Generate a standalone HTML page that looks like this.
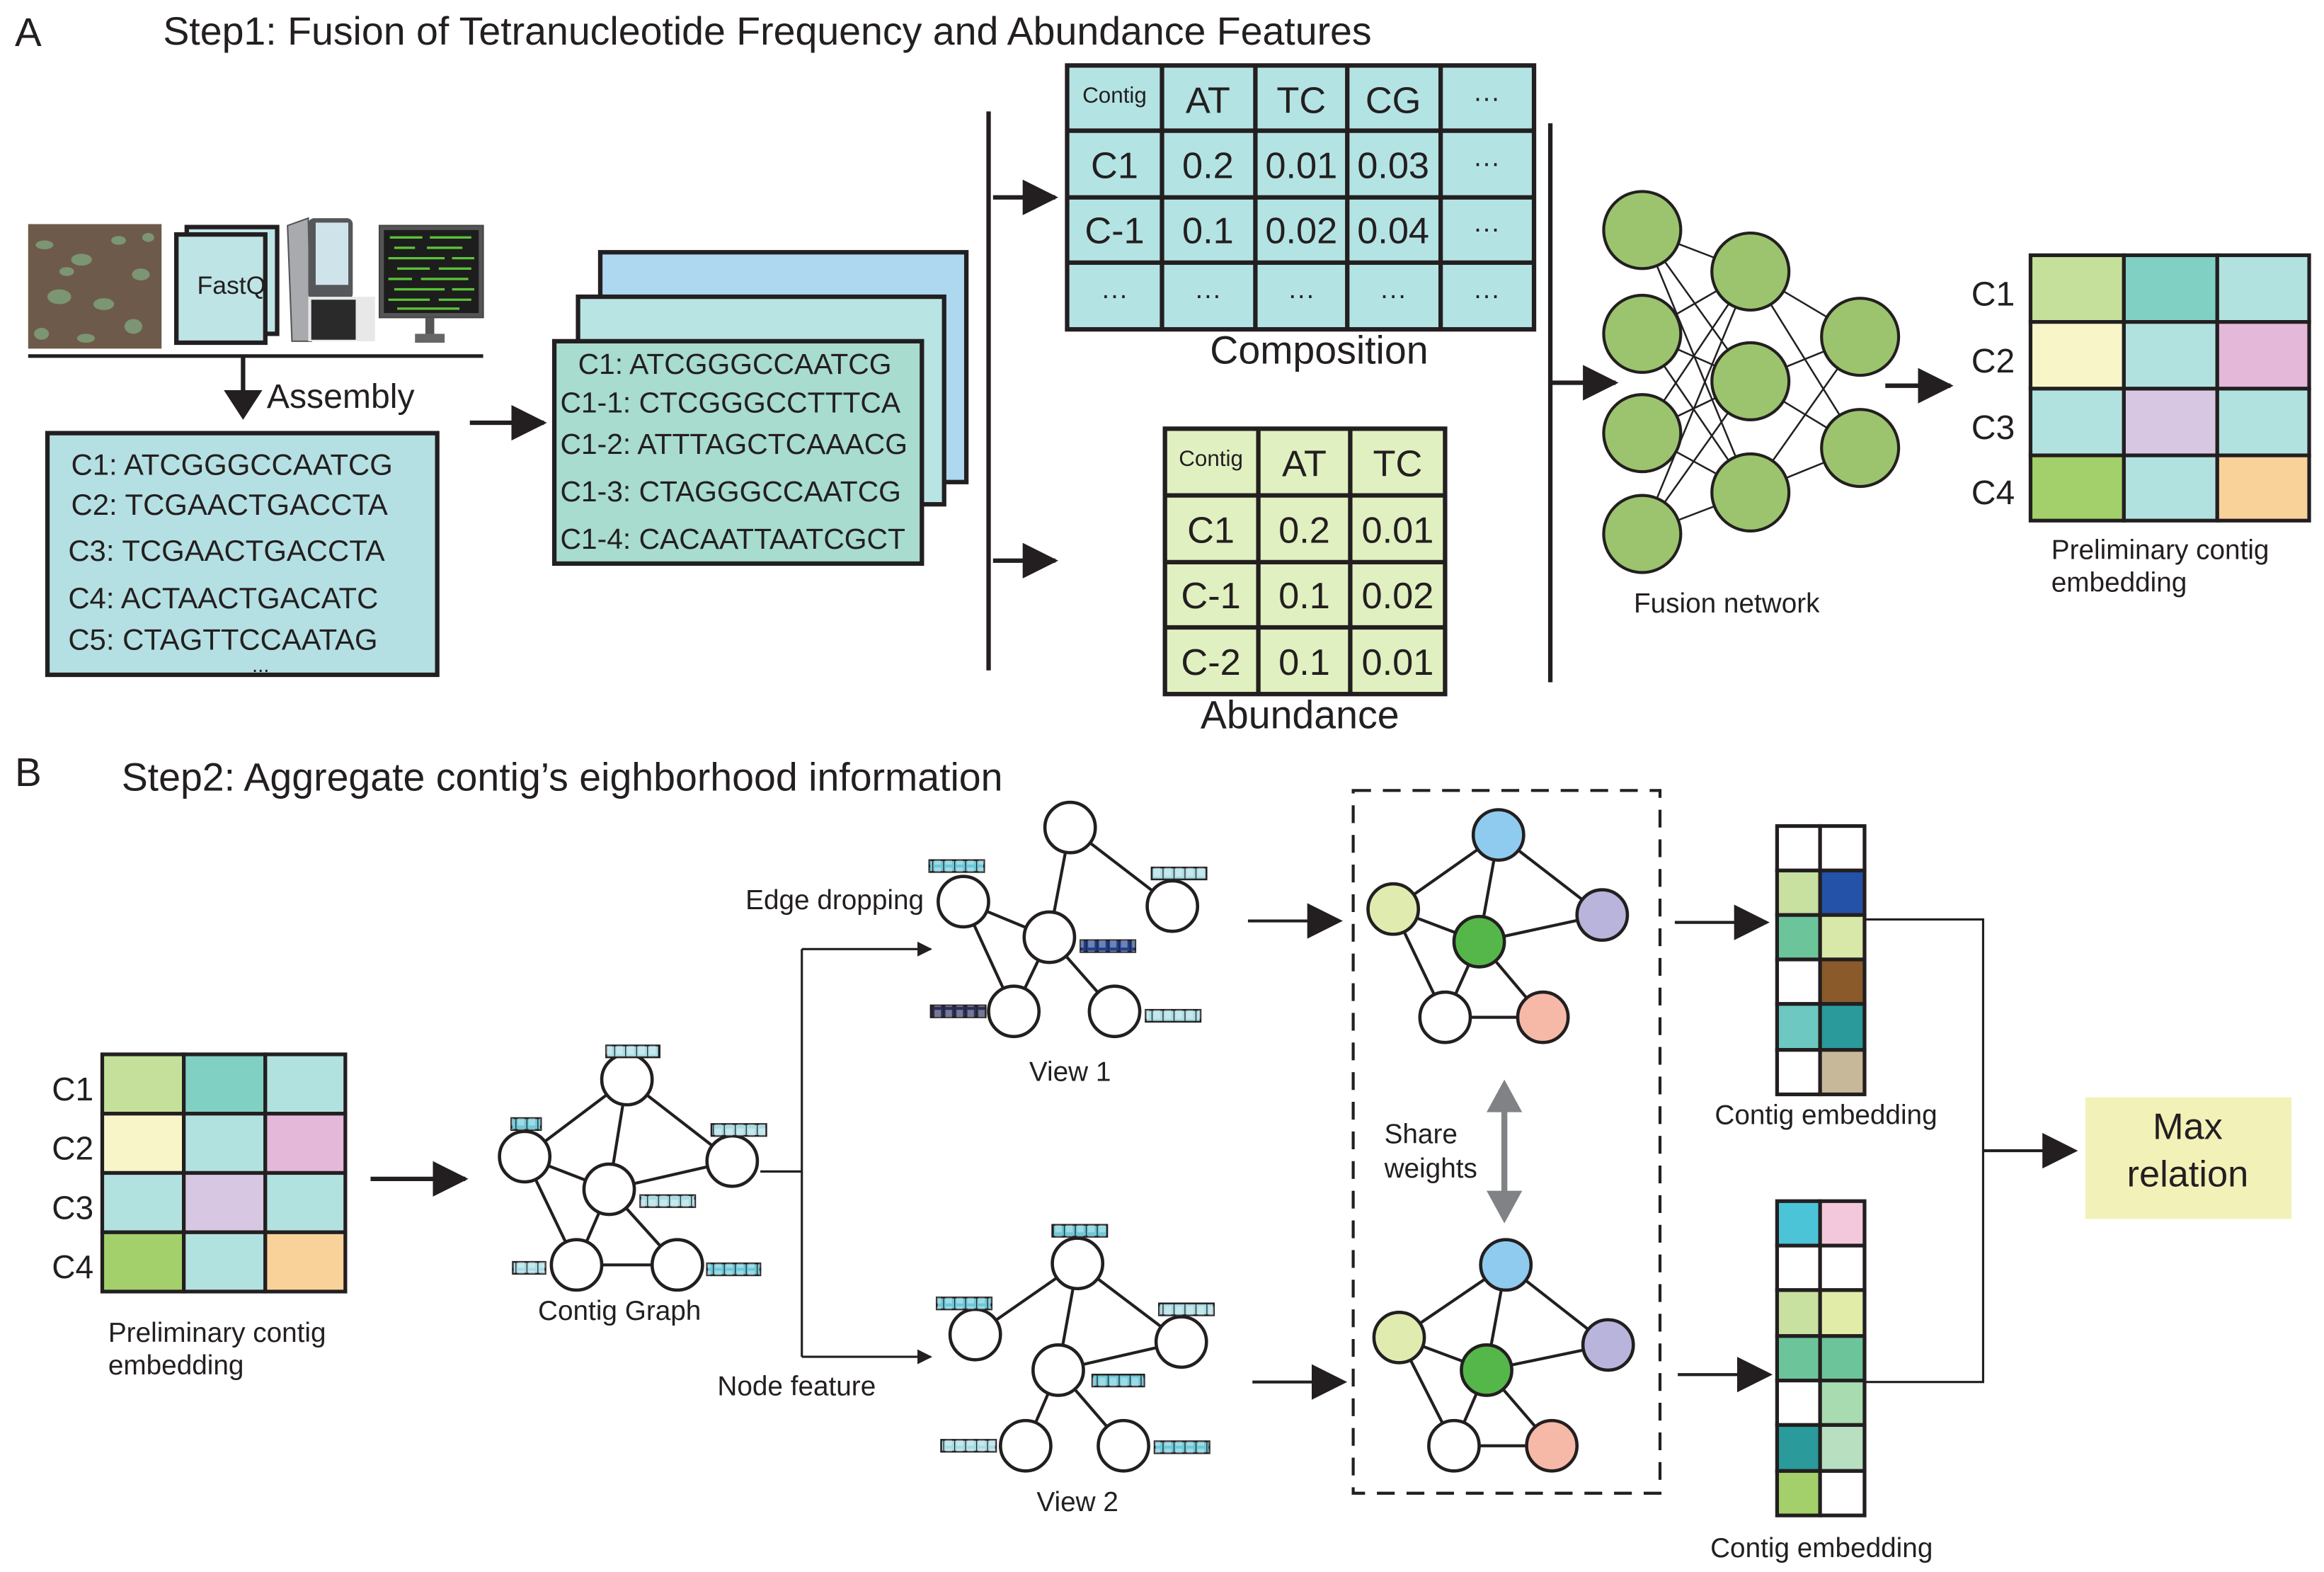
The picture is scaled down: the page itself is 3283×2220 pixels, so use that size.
<!DOCTYPE html>
<html><head><meta charset="utf-8"><style>
html,body{margin:0;padding:0;background:#fff;}
svg{display:block;}
text{font-family:"Liberation Sans",Arial,sans-serif;fill:#231f20;}
</style></head><body>
<svg width="3283" height="2220" viewBox="0 0 1568 1060" xmlns="http://www.w3.org/2000/svg">
<defs>
<marker id="ah" markerWidth="10" markerHeight="10" refX="9" refY="5" orient="auto" markerUnits="userSpaceOnUse"><path d="M0,0 L10,5 L0,10 z" fill="#231f20"/></marker>
<marker id="ahb" markerWidth="24" markerHeight="24" refX="22" refY="12" orient="auto" markerUnits="userSpaceOnUse"><path d="M0,0 L24,12 L0,24 z" fill="#231f20"/></marker>
<pattern id="cells" x="0" y="0" width="7.4" height="8" patternUnits="userSpaceOnUse"><rect x="0" y="0" width="7.4" height="8" fill="none"/><line x1="0" y1="0" x2="0" y2="8" stroke="#231f20" stroke-width="1.2"/><rect x="1.5" y="1" width="4.4" height="6" fill="#fff" opacity="0.35"/></pattern>
</defs>
<rect width="1568" height="1060" fill="#fff"/>

<!-- Section A -->
<text x="10" y="31" font-size="27">A</text>
<text x="110" y="30" font-size="26.5">Step1: Fusion of Tetranucleotide Frequency and Abundance Features</text>

<!-- photo -->
<rect x="19" y="151" width="90" height="84" fill="#6e5a4a"/>
<g fill="#7e9c78" opacity="0.9">
<ellipse cx="30" cy="165" rx="6" ry="3"/><ellipse cx="55" cy="175" rx="7" ry="4"/><ellipse cx="80" cy="162" rx="5" ry="3"/>
<ellipse cx="95" cy="185" rx="6" ry="4"/><ellipse cx="40" cy="200" rx="8" ry="5"/><ellipse cx="70" cy="205" rx="7" ry="4"/>
<ellipse cx="90" cy="220" rx="6" ry="5"/><ellipse cx="28" cy="225" rx="5" ry="4"/><ellipse cx="58" cy="228" rx="6" ry="3"/>
<ellipse cx="100" cy="160" rx="4" ry="3"/><ellipse cx="45" cy="183" rx="5" ry="3"/>
</g>
<!-- fastq docs -->
<rect x="126" y="153" width="61" height="72" fill="#bfe4e6" stroke="#231f20" stroke-width="3"/>
<rect x="119" y="158" width="60" height="73" fill="#bfe4e6" stroke="#231f20" stroke-width="3"/>
<text x="133" y="198" font-size="17">FastQ</text>
<!-- sequencer -->
<path d="M194,152 L208,147 L210,230 L197,230 Z" fill="#a8aaad" stroke="#555" stroke-width="1"/>
<rect x="208" y="147" width="30" height="55" rx="4" fill="#55575a"/>
<rect x="213" y="150" width="22" height="42" fill="#cfe3ea"/>
<rect x="208" y="200" width="45" height="30" fill="#e8e8e8"/>
<rect x="210" y="202" width="30" height="27" fill="#2a2a2a"/>
<!-- monitor -->
<rect x="256" y="152" width="70" height="62" fill="#555" stroke="#444"/>
<rect x="259" y="155" width="64" height="56" fill="#1d1d1d"/>
<g stroke="#5cc23a" stroke-width="1.6">
<line x1="263" y1="160" x2="285" y2="160"/><line x1="290" y1="160" x2="318" y2="160"/>
<line x1="266" y1="167" x2="280" y2="167"/><line x1="288" y1="167" x2="312" y2="167"/>
<line x1="262" y1="174" x2="300" y2="174"/><line x1="305" y1="174" x2="320" y2="174"/>
<line x1="268" y1="181" x2="290" y2="181"/><line x1="296" y1="181" x2="318" y2="181"/>
<line x1="262" y1="188" x2="278" y2="188"/><line x1="284" y1="188" x2="316" y2="188"/>
<line x1="266" y1="195" x2="300" y2="195"/><line x1="305" y1="195" x2="320" y2="195"/>
<line x1="262" y1="202" x2="290" y2="202"/><line x1="296" y1="202" x2="318" y2="202"/>
<line x1="268" y1="208" x2="310" y2="208"/>
</g>
<rect x="287" y="214" width="6" height="12" fill="#555"/>
<rect x="280" y="225" width="20" height="6" fill="#666"/>
<line x1="19" y1="240" x2="326" y2="240" stroke="#231f20" stroke-width="2.5"/>
<line x1="164" y1="240" x2="164" y2="264" stroke="#231f20" stroke-width="3"/>
<path d="M151,263 L177,263 L164,283 Z" fill="#231f20"/>
<text x="180" y="275" font-size="23">Assembly</text>

<rect x="32" y="292" width="263" height="163" fill="#b5e0e3" stroke="#231f20" stroke-width="3"/>
<g font-size="20">
<text x="48" y="320">C1: ATCGGGCCAATCG</text>
<text x="48" y="347">C2: TCGAACTGACCTA</text>
<text x="46" y="378">C3: TCGAACTGACCTA</text>
<text x="46" y="410">C4: ACTAACTGACATC</text>
<text x="46" y="438">C5: CTAGTTCCAATAG</text>
</g>
<text x="170" y="453" font-size="14">...</text>

<line x1="317" y1="285" x2="367" y2="285" stroke="#231f20" stroke-width="3" marker-end="url(#ahb)"/>

<rect x="405" y="170" width="247" height="155" fill="#aed8f0" stroke="#231f20" stroke-width="3"/>
<rect x="390" y="200" width="247" height="140" fill="#b8e4e3" stroke="#231f20" stroke-width="3"/>
<rect x="374" y="230" width="248" height="150" fill="#a7dccf" stroke="#231f20" stroke-width="3"/>
<g font-size="19.5">
<text x="390" y="252">C1:  ATCGGGCCAATCG</text>
<text x="378" y="278">C1-1: CTCGGGCCTTTCA</text>
<text x="378" y="306">C1-2: ATTTAGCTCAAACG</text>
<text x="378" y="338">C1-3: CTAGGGCCAATCG</text>
<text x="378" y="370">C1-4: CACAATTAATCGCT</text>
</g>

<line x1="667" y1="75" x2="667" y2="452" stroke="#231f20" stroke-width="3"/>
<line x1="670" y1="133" x2="712" y2="133" stroke="#231f20" stroke-width="3" marker-end="url(#ahb)"/>
<line x1="670" y1="378" x2="712" y2="378" stroke="#231f20" stroke-width="3" marker-end="url(#ahb)"/>

<!-- Composition table -->
<rect x="720" y="44" width="315" height="178" fill="#b4e3e3" stroke="#231f20" stroke-width="3"/>
<g stroke="#231f20" stroke-width="3">
<line x1="784" y1="44" x2="784" y2="222"/><line x1="847" y1="44" x2="847" y2="222"/>
<line x1="909" y1="44" x2="909" y2="222"/><line x1="972" y1="44" x2="972" y2="222"/>
<line x1="720" y1="88" x2="1035" y2="88"/><line x1="720" y1="133" x2="1035" y2="133"/><line x1="720" y1="177" x2="1035" y2="177"/>
</g>
<g font-size="25" text-anchor="middle">
<text x="752" y="69" font-size="15">Contig</text><text x="815" y="76">AT</text><text x="878" y="76">TC</text><text x="940" y="76">CG</text><text x="1003" y="72" font-size="18">···</text>
<text x="752" y="120">C1</text><text x="815" y="120">0.2</text><text x="878" y="120">0.01</text><text x="940" y="120">0.03</text><text x="1003" y="116" font-size="18">···</text>
<text x="752" y="164">C-1</text><text x="815" y="164">0.1</text><text x="878" y="164">0.02</text><text x="940" y="164">0.04</text><text x="1003" y="160" font-size="18">···</text>
<g font-size="18"><text x="752" y="205">···</text><text x="815" y="205">···</text><text x="878" y="205">···</text><text x="940" y="205">···</text><text x="1003" y="205">···</text></g>
</g>
<text x="890" y="245" font-size="26.5" text-anchor="middle">Composition</text>

<!-- Abundance -->
<rect x="786" y="289" width="189" height="179" fill="#e0f0c0" stroke="#231f20" stroke-width="3"/>
<g stroke="#231f20" stroke-width="3">
<line x1="849" y1="289" x2="849" y2="468"/><line x1="911" y1="289" x2="911" y2="468"/>
<line x1="786" y1="334" x2="975" y2="334"/><line x1="786" y1="379" x2="975" y2="379"/><line x1="786" y1="423" x2="975" y2="423"/>
</g>
<g font-size="25" text-anchor="middle">
<text x="817" y="314" font-size="15">Contig</text><text x="880" y="321">AT</text><text x="943" y="321">TC</text>
<text x="817" y="366">C1</text><text x="880" y="366">0.2</text><text x="943" y="366">0.01</text>
<text x="817" y="410">C-1</text><text x="880" y="410">0.1</text><text x="943" y="410">0.02</text>
<text x="817" y="455">C-2</text><text x="880" y="455">0.1</text><text x="943" y="455">0.01</text>
</g>
<text x="877" y="491" font-size="26.5" text-anchor="middle">Abundance</text>

<line x1="1046" y1="83" x2="1046" y2="460" stroke="#231f20" stroke-width="3"/>
<line x1="1046" y1="258" x2="1090" y2="258" stroke="#231f20" stroke-width="3" marker-end="url(#ahb)"/>

<!-- fusion network -->
<g stroke="#231f20" stroke-width="1.2">
<line x1="1108" y1="155" x2="1181" y2="183"/><line x1="1108" y1="155" x2="1181" y2="257"/><line x1="1108" y1="155" x2="1181" y2="332"/>
<line x1="1108" y1="225" x2="1181" y2="183"/><line x1="1108" y1="225" x2="1181" y2="257"/><line x1="1108" y1="225" x2="1181" y2="332"/>
<line x1="1108" y1="292" x2="1181" y2="183"/><line x1="1108" y1="292" x2="1181" y2="257"/><line x1="1108" y1="292" x2="1181" y2="332"/>
<line x1="1108" y1="360" x2="1181" y2="183"/><line x1="1108" y1="360" x2="1181" y2="257"/><line x1="1108" y1="360" x2="1181" y2="332"/>
<line x1="1181" y1="183" x2="1255" y2="227"/><line x1="1181" y1="183" x2="1255" y2="302"/>
<line x1="1181" y1="257" x2="1255" y2="227"/><line x1="1181" y1="257" x2="1255" y2="302"/>
<line x1="1181" y1="332" x2="1255" y2="227"/><line x1="1181" y1="332" x2="1255" y2="302"/>
</g>
<g fill="#9cc46f" stroke="#231f20" stroke-width="2">
<circle cx="1108" cy="155" r="26"/><circle cx="1108" cy="225" r="26"/><circle cx="1108" cy="292" r="26"/><circle cx="1108" cy="360" r="26"/>
<circle cx="1181" cy="183" r="26"/><circle cx="1181" cy="257" r="26"/><circle cx="1181" cy="332" r="26"/>
<circle cx="1255" cy="227" r="26"/><circle cx="1255" cy="302" r="26"/>
</g>
<text x="1165" y="413" font-size="18.5" text-anchor="middle">Fusion network</text>
<line x1="1272" y1="260" x2="1316" y2="260" stroke="#231f20" stroke-width="3" marker-end="url(#ahb)"/>

<!-- prelim embedding top -->
<g stroke="#231f20" stroke-width="2.5">
<rect x="1370" y="172" width="63" height="45" fill="#c5e09a"/><rect x="1433" y="172" width="63" height="45" fill="#80d0c4"/><rect x="1496" y="172" width="62" height="45" fill="#b2e2e0"/>
<rect x="1370" y="217" width="63" height="45" fill="#f8f6c9"/><rect x="1433" y="217" width="63" height="45" fill="#b2e2e0"/><rect x="1496" y="217" width="62" height="45" fill="#e4b8d8"/>
<rect x="1370" y="262" width="63" height="45" fill="#b2e2e0"/><rect x="1433" y="262" width="63" height="45" fill="#d7c7e3"/><rect x="1496" y="262" width="62" height="45" fill="#b2e2e0"/>
<rect x="1370" y="307" width="63" height="44" fill="#a3d06a"/><rect x="1433" y="307" width="63" height="44" fill="#b2e2e0"/><rect x="1496" y="307" width="62" height="44" fill="#f9d29a"/>
</g>
<g font-size="23"><text x="1330" y="206">C1</text><text x="1330" y="251">C2</text><text x="1330" y="296">C3</text><text x="1330" y="340">C4</text></g>
<text x="1384" y="377" font-size="18.5">Preliminary contig</text>
<text x="1384" y="399" font-size="18.5">embedding</text>

<!-- Section B -->
<text x="10" y="530" font-size="27">B</text>
<text x="82" y="533" font-size="26.5">Step2: Aggregate contig’s eighborhood information</text>

<g stroke="#231f20" stroke-width="2.5">
<rect x="69" y="711" width="55" height="40" fill="#c5e09a"/><rect x="124" y="711" width="55" height="40" fill="#80d0c4"/><rect x="179" y="711" width="54" height="40" fill="#b2e2e0"/>
<rect x="69" y="751" width="55" height="40" fill="#f8f6c9"/><rect x="124" y="751" width="55" height="40" fill="#b2e2e0"/><rect x="179" y="751" width="54" height="40" fill="#e4b8d8"/>
<rect x="69" y="791" width="55" height="40" fill="#b2e2e0"/><rect x="124" y="791" width="55" height="40" fill="#d7c7e3"/><rect x="179" y="791" width="54" height="40" fill="#b2e2e0"/>
<rect x="69" y="831" width="55" height="40" fill="#a3d06a"/><rect x="124" y="831" width="55" height="40" fill="#b2e2e0"/><rect x="179" y="831" width="54" height="40" fill="#f9d29a"/>
</g>
<g font-size="22"><text x="35" y="742">C1</text><text x="35" y="782">C2</text><text x="35" y="822">C3</text><text x="35" y="862">C4</text></g>
<text x="73" y="905" font-size="18.5">Preliminary contig</text>
<text x="73" y="927" font-size="18.5">embedding</text>

<line x1="250" y1="795" x2="314" y2="795" stroke="#231f20" stroke-width="3" marker-end="url(#ahb)"/>

<!-- contig graph -->
<g stroke="#231f20" stroke-width="2">
<line x1="423" y1="728" x2="354" y2="780"/><line x1="423" y1="728" x2="411" y2="802"/><line x1="423" y1="728" x2="494" y2="783"/>
<line x1="354" y1="780" x2="411" y2="802"/><line x1="354" y1="780" x2="389" y2="853"/><line x1="411" y1="802" x2="389" y2="853"/>
<line x1="411" y1="802" x2="494" y2="783"/><line x1="411" y1="802" x2="457" y2="853"/><line x1="389" y1="853" x2="457" y2="853"/>
</g>
<g fill="#fff" stroke="#231f20" stroke-width="2.2">
<circle cx="423" cy="728" r="17"/><circle cx="354" cy="780" r="17"/><circle cx="411" cy="802" r="17"/><circle cx="494" cy="783" r="17"/><circle cx="389" cy="853" r="17"/><circle cx="457" cy="853" r="17"/>
</g>
<g stroke="#231f20" stroke-width="1.2">
<rect x="409" y="705" width="36" height="8" fill="#a8dce4"/><rect x="345" y="754" width="20" height="8" fill="#6cc8d8"/>
<rect x="480" y="758" width="37" height="8" fill="#a8dce4"/><rect x="432" y="806" width="37" height="8" fill="#a8dce4"/>
<rect x="346" y="851" width="22" height="8" fill="#a8dce4"/><rect x="477" y="852" width="36" height="8" fill="#6cc8d8"/>
</g>
<g fill="url(#cells)">
<rect x="409" y="705" width="36" height="8"/><rect x="345" y="754" width="20" height="8"/><rect x="480" y="758" width="37" height="8"/>
<rect x="432" y="806" width="37" height="8"/><rect x="346" y="851" width="22" height="8"/><rect x="477" y="852" width="36" height="8"/>
</g>
<text x="418" y="890" font-size="18.5" text-anchor="middle">Contig Graph</text>

<polyline points="513,790 541,790" fill="none" stroke="#231f20" stroke-width="1.5"/>
<line x1="541" y1="640" x2="541" y2="915" stroke="#231f20" stroke-width="1.5"/>
<line x1="541" y1="640" x2="628" y2="640" stroke="#231f20" stroke-width="1.5" marker-end="url(#ah)"/>
<line x1="541" y1="915" x2="628" y2="915" stroke="#231f20" stroke-width="1.5" marker-end="url(#ah)"/>
<text x="503" y="613" font-size="18.5">Edge dropping</text>
<text x="484" y="941" font-size="18.5">Node feature</text>

<!-- view1 -->
<g stroke="#231f20" stroke-width="2">
<line x1="722" y1="558" x2="708" y2="632"/><line x1="722" y1="558" x2="791" y2="611"/>
<line x1="650" y1="608" x2="708" y2="632"/><line x1="650" y1="608" x2="684" y2="682"/>
<line x1="708" y1="632" x2="684" y2="682"/><line x1="708" y1="632" x2="752" y2="682"/>
</g>
<g fill="#fff" stroke="#231f20" stroke-width="2.2">
<circle cx="722" cy="558" r="17"/><circle cx="650" cy="608" r="17"/><circle cx="708" cy="632" r="17"/><circle cx="791" cy="611" r="17"/><circle cx="684" cy="682" r="17"/><circle cx="752" cy="682" r="17"/>
</g>
<g stroke="#231f20" stroke-width="1.2">
<rect x="627" y="580" width="37" height="8" fill="#6cc8d8"/><rect x="777" y="585" width="37" height="8" fill="#a8dce4"/>
<rect x="729" y="634" width="37" height="8" fill="#1e3f8e"/><rect x="628" y="678" width="37" height="8" fill="#2a2f5a"/>
<rect x="773" y="681" width="37" height="8" fill="#a8dce4"/>
</g>
<g fill="url(#cells)">
<rect x="627" y="580" width="37" height="8"/><rect x="777" y="585" width="37" height="8"/><rect x="729" y="634" width="37" height="8"/>
<rect x="628" y="678" width="37" height="8"/><rect x="773" y="681" width="37" height="8"/>
</g>
<text x="722" y="729" font-size="18.5" text-anchor="middle">View 1</text>

<!-- view2 -->
<g stroke="#231f20" stroke-width="2">
<line x1="727" y1="852" x2="658" y2="900"/><line x1="727" y1="852" x2="714" y2="924"/><line x1="727" y1="852" x2="797" y2="905"/>
<line x1="714" y1="924" x2="797" y2="905"/><line x1="714" y1="924" x2="692" y2="975"/><line x1="714" y1="924" x2="758" y2="975"/>
</g>
<g fill="#fff" stroke="#231f20" stroke-width="2.2">
<circle cx="727" cy="852" r="17"/><circle cx="658" cy="900" r="17"/><circle cx="714" cy="924" r="17"/><circle cx="797" cy="905" r="17"/><circle cx="692" cy="975" r="17"/><circle cx="758" cy="975" r="17"/>
</g>
<g stroke="#231f20" stroke-width="1.2">
<rect x="710" y="826" width="37" height="8" fill="#6cc8d8"/><rect x="632" y="875" width="37" height="8" fill="#6cc8d8"/>
<rect x="782" y="879" width="37" height="8" fill="#a8dce4"/><rect x="737" y="927" width="35" height="8" fill="#6cc8d8"/>
<rect x="635" y="971" width="37" height="8" fill="#a8dce4"/><rect x="779" y="972" width="37" height="8" fill="#6cc8d8"/>
</g>
<g fill="url(#cells)">
<rect x="710" y="826" width="37" height="8"/><rect x="632" y="875" width="37" height="8"/><rect x="782" y="879" width="37" height="8"/>
<rect x="737" y="927" width="35" height="8"/><rect x="635" y="971" width="37" height="8"/><rect x="779" y="972" width="37" height="8"/>
</g>
<text x="727" y="1019" font-size="18.5" text-anchor="middle">View 2</text>

<line x1="842" y1="621" x2="904" y2="621" stroke="#231f20" stroke-width="2" marker-end="url(#ahb)"/>
<line x1="845" y1="932" x2="907" y2="932" stroke="#231f20" stroke-width="2" marker-end="url(#ahb)"/>

<rect x="913" y="533" width="207" height="474" fill="none" stroke="#231f20" stroke-width="2" stroke-dasharray="12,8"/>

<!-- colored graphs -->
<g stroke="#231f20" stroke-width="2">
<line x1="1011" y1="563" x2="940" y2="613"/><line x1="1011" y1="563" x2="998" y2="635"/><line x1="1011" y1="563" x2="1081" y2="617"/>
<line x1="940" y1="613" x2="998" y2="635"/><line x1="940" y1="613" x2="975" y2="686"/><line x1="998" y1="635" x2="1081" y2="617"/>
<line x1="998" y1="635" x2="975" y2="686"/><line x1="998" y1="635" x2="1041" y2="686"/><line x1="975" y1="686" x2="1041" y2="686"/>
<line x1="1016" y1="853" x2="944" y2="902"/><line x1="1016" y1="853" x2="1003" y2="924"/><line x1="1016" y1="853" x2="1085" y2="907"/>
<line x1="944" y1="902" x2="1003" y2="924"/><line x1="944" y1="902" x2="981" y2="975"/><line x1="1003" y1="924" x2="1085" y2="907"/>
<line x1="1003" y1="924" x2="981" y2="975"/><line x1="1003" y1="924" x2="1047" y2="975"/><line x1="981" y1="975" x2="1047" y2="975"/>
</g>
<g stroke="#231f20" stroke-width="2.2">
<circle cx="1011" cy="563" r="17" fill="#8fcbef"/><circle cx="940" cy="613" r="17" fill="#e0ebb0"/><circle cx="998" cy="635" r="17" fill="#55b74a"/>
<circle cx="1081" cy="617" r="17" fill="#b8b4dc"/><circle cx="975" cy="686" r="17" fill="#fff"/><circle cx="1041" cy="686" r="17" fill="#f6b9a8"/>
<circle cx="1016" cy="853" r="17" fill="#8fcbef"/><circle cx="944" cy="902" r="17" fill="#e0ebb0"/><circle cx="1003" cy="924" r="17" fill="#55b74a"/>
<circle cx="1085" cy="907" r="17" fill="#b8b4dc"/><circle cx="981" cy="975" r="17" fill="#fff"/><circle cx="1047" cy="975" r="17" fill="#f6b9a8"/>
</g>
<line x1="1015" y1="745" x2="1015" y2="808" stroke="#808285" stroke-width="4"/>
<path d="M1003,750 L1015,728 L1027,750 Z" fill="#808285"/>
<path d="M1003,803 L1015,825 L1027,803 Z" fill="#808285"/>
<text x="934" y="771" font-size="18.5">Share</text>
<text x="934" y="794" font-size="18.5">weights</text>

<line x1="1130" y1="622" x2="1192" y2="622" stroke="#231f20" stroke-width="2" marker-end="url(#ahb)"/>
<line x1="1132" y1="927" x2="1194" y2="927" stroke="#231f20" stroke-width="2" marker-end="url(#ahb)"/>

<!-- embeddings -->
<g stroke="#231f20" stroke-width="2.5">
<rect x="1199" y="557" width="29" height="30" fill="#fff"/><rect x="1228" y="557" width="30" height="30" fill="#fff"/>
<rect x="1199" y="587" width="29" height="30" fill="#c8e0a0"/><rect x="1228" y="587" width="30" height="30" fill="#2452a8"/>
<rect x="1199" y="617" width="29" height="30" fill="#6cc59a"/><rect x="1228" y="617" width="30" height="30" fill="#d8e8a8"/>
<rect x="1199" y="647" width="29" height="30" fill="#fff"/><rect x="1228" y="647" width="30" height="30" fill="#8b5a2b"/>
<rect x="1199" y="677" width="29" height="31" fill="#6cc8c0"/><rect x="1228" y="677" width="30" height="31" fill="#2a9a9a"/>
<rect x="1199" y="708" width="29" height="30" fill="#fff"/><rect x="1228" y="708" width="30" height="30" fill="#c8b89a"/>
</g>
<text x="1232" y="758" font-size="18.5" text-anchor="middle">Contig embedding</text>
<g stroke="#231f20" stroke-width="2.5">
<rect x="1199" y="810" width="29" height="30" fill="#4cc4d8"/><rect x="1228" y="810" width="30" height="30" fill="#f4c8dc"/>
<rect x="1199" y="840" width="29" height="30" fill="#fff"/><rect x="1228" y="840" width="30" height="30" fill="#fff"/>
<rect x="1199" y="870" width="29" height="31" fill="#c8e0a0"/><rect x="1228" y="870" width="30" height="31" fill="#e0eca8"/>
<rect x="1199" y="901" width="29" height="30" fill="#6cc59a"/><rect x="1228" y="901" width="30" height="30" fill="#6cc59a"/>
<rect x="1199" y="931" width="29" height="30" fill="#fff"/><rect x="1228" y="931" width="30" height="30" fill="#a8dcb0"/>
<rect x="1199" y="961" width="29" height="31" fill="#2a9a9a"/><rect x="1228" y="961" width="30" height="31" fill="#b8e0c0"/>
<rect x="1199" y="992" width="29" height="30" fill="#a3d06a"/><rect x="1228" y="992" width="30" height="30" fill="#fff"/>
</g>
<text x="1229" y="1050" font-size="18.5" text-anchor="middle">Contig embedding</text>

<polyline points="1258,620 1338,620 1338,932 1258,932" fill="none" stroke="#231f20" stroke-width="1.5"/>
<line x1="1338" y1="776" x2="1400" y2="776" stroke="#231f20" stroke-width="2" marker-end="url(#ahb)"/>
<rect x="1407" y="740" width="139" height="82" fill="#f2f2b8"/>
<text x="1476" y="768" font-size="25" text-anchor="middle">Max</text>
<text x="1476" y="800" font-size="25" text-anchor="middle">relation</text>
</svg>
</body></html>
